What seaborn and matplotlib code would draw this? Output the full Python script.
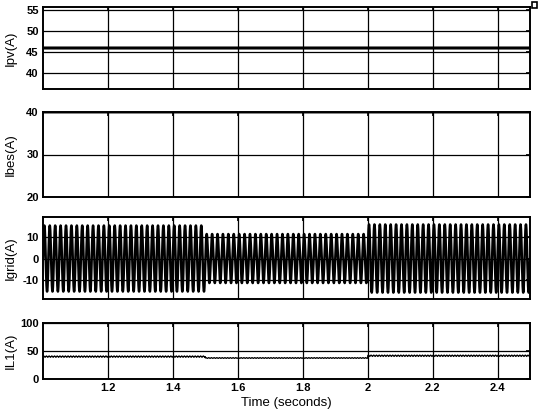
import numpy as np
import matplotlib
matplotlib.use("Agg")
import matplotlib.pyplot as plt
import seaborn as sns
from matplotlib.patches import Rectangle
from matplotlib.ticker import FuncFormatter

# Intervalos de operação (s)
seg_edges = [1.0, 1.5, 2.0, 2.5]

# Corrente do PV por intervalo (A)
ipv_level = [46.0, 46.0, 46.0]
# Corrente da bateria por intervalo (A)
ibes_level = [40.0, 40.0, 40.0]
# Pico da corrente da rede por intervalo (A)
igrid_peak = [15.5, 11.5, 16.0]
grid_freq = 60.0
# Corrente no indutor: média e ondulação por intervalo (A)
il1_mean = [40.0, 37.5, 41.5]
il1_ripple = [1.2, 0.7, 1.2]
ripple_freq = 120.0

x_ticks = [1.2, 1.4, 1.6, 1.8, 2.0, 2.2, 2.4]
ylabels = ["Ipv(A)", "Ibes(A)", "Igrid(A)", "IL1(A)"]
ylims = [(36.2, 55.8), (20, 40), (-19, 19.5), (0, 100)]
yticks = [[40, 45, 50, 55], [20, 30, 40], [-10, 0, 10], [0, 50, 100]]

# Monta os sinais a partir dos níveis de cada intervalo
t = np.linspace(seg_edges[0], seg_edges[-1], 18001)
idx = np.clip(np.searchsorted(seg_edges, t, side="right") - 1, 0, 2)
ipv = np.array(ipv_level)[idx]
ibes = np.array(ibes_level)[idx]
igrid = np.array(igrid_peak)[idx] * np.sin(2 * np.pi * grid_freq * t)
il1 = np.array(il1_mean)[idx] + np.array(il1_ripple)[idx] * np.sin(2 * np.pi * ripple_freq * t)
signals = [ipv, ibes, igrid, il1]
widths = [2.2, 2.0, 1.8, 0.9]

sns.set_theme(style="white")
plt.rcParams["font.family"] = ["Liberation Sans", "DejaVu Sans"]
plt.rcParams["axes.unicode_minus"] = False

fig = plt.figure(figsize=(5.38, 4.12), dpi=100)
W, H = 538, 412
boxes = [(7, 89), (112, 197), (217, 299), (323, 379)]
left, right = 43, 530

for i, (top, bot) in enumerate(boxes):
    ax = fig.add_axes([left / W, (H - bot) / H, (right - left) / W, (bot - top) / H])
    sns.lineplot(x=t, y=signals[i], ax=ax, color="black", lw=widths[i],
                 estimator=None, sort=False)
    ax.set_xlim(seg_edges[0], seg_edges[-1])
    ax.set_ylim(*ylims[i])
    ax.set_xticks(x_ticks)
    ax.set_yticks(yticks[i])
    ax.grid(True, color="black", lw=0.9)
    ax.tick_params(direction="in", length=3, top=True, right=True,
                   labelsize=8, pad=3, colors="black")
    for lab in ax.get_xticklabels() + ax.get_yticklabels():
        lab.set_fontweight("bold")
    for s in ax.spines.values():
        s.set_color("black")
        s.set_linewidth(1.4)
    ax.set_ylabel(ylabels[i], fontsize=9.5, color="black")
    ax.yaxis.set_label_coords(-0.054, 0.5)
    if i < 3:
        ax.tick_params(labelbottom=False)
    else:
        ax.xaxis.set_major_formatter(FuncFormatter(lambda v, p: f"{v:g}"))
        for lab in ax.get_xticklabels():
            lab.set_fontweight("bold")
        ax.set_xlabel("Time (seconds)", fontsize=9.5, color="black", labelpad=3)

# marcador do osciloscópio no canto superior direito
fig.add_artist(Rectangle((532 / W, (H - 8) / H), 5 / W, 6 / H, transform=fig.transFigure,
                         facecolor="white", edgecolor="black", lw=1.2))

fig.savefig("out.png", dpi=100)
